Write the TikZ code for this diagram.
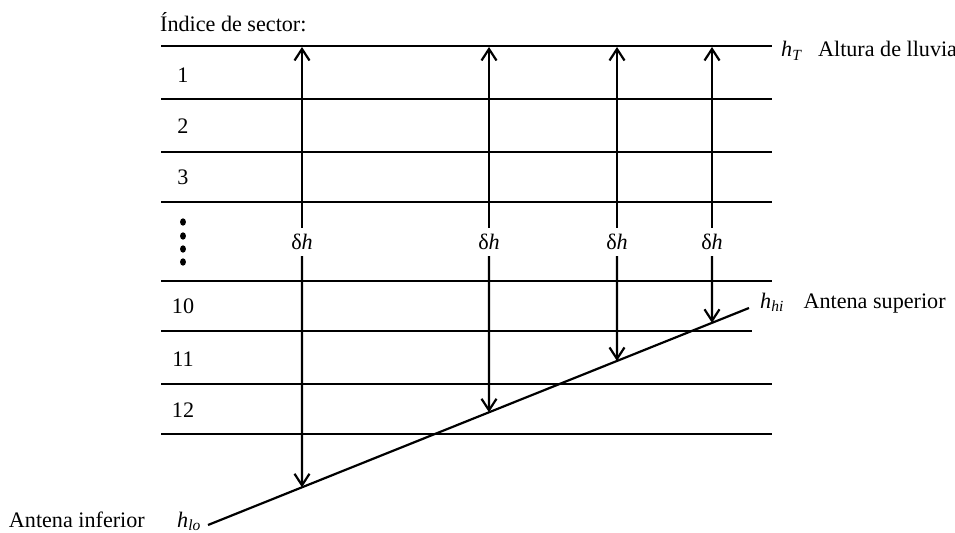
\documentclass[tikz,border=0pt]{standalone}
\usepackage{fontspec}
\setmainfont{Liberation Serif}
\usetikzlibrary{arrows.meta}
\usetikzlibrary{positioning}

\tikzset{
	layer/.style={line width=1.25pt},
	dharrow/.style={line width=1.25pt, -{Straight Barb[length=2.3mm,width=3mm,line width=1.25pt]}},
}

\begin{document}
\begin{tikzpicture}[x=0.02cm, y=-0.02cm, font=\fontsize{12.6}{15}\selectfont]
				\useasboundingbox (0,0) rectangle (955,533);
				\foreach \y in {46,99,152,202,281,384,434}
				{
					\draw[layer] (161,\y) -- (772,\y);
				}
				\draw[layer] (161,331) -- (752,331);
				\coordinate (lo) at (208,525);
				\coordinate (hi) at (749,308);
				\draw[layer] (lo) -- (hi);
				\foreach \t/\y in {1/75,2/126,3/177,10/306,11/359,12/410}
				{
					\node (sec\t) at (183,\y) {\t};
				}
				\foreach \y in {222,236,249,262}
				{
					\fill (183,\y) ellipse (1.7pt and 2.1pt);
				}
				\node[anchor=base west] (title) at (154,32) {Índice de sector:};
				\node[anchor=base west] (hT) at (775,57) {\textit{h}\textsubscript{\textit{T}}};
				\node (rain) [base right=0.06cm of hT] {Altura de lluvia};
				\node[anchor=base west] (hhi) at (754,308) {\textit{h}\textsubscript{\textit{hi}}};
				\node (upper) [base right=0.14cm of hhi] {Antena superior};
				\node[anchor=base west] (hlo) at (171,527) {\textit{h}\textsubscript{\textit{lo}}};
				\node (lower) [base left=0.4cm of hlo] {Antena inferior};
				\foreach \n/\x in {a/302,b/489,c/617,d/712}
				{
					\node (dh\n) at (\x,242) {δ\textit{h}};
					\coordinate (top\n) at (\x,47);
					\coordinate (bot\n) at (intersection of lo--hi and dh\n--top\n);
					\draw[dharrow] (dh\n) -- (top\n);
					\draw[dharrow] (dh\n) -- (bot\n);
				}
\end{tikzpicture}
\end{document}
